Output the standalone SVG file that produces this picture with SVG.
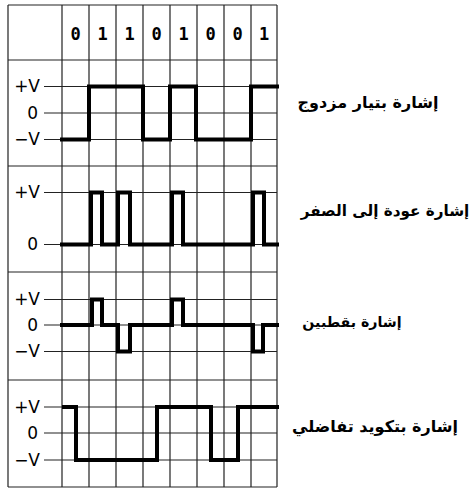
<svg xmlns="http://www.w3.org/2000/svg" width="471" height="489" viewBox="0 0 471 489">
<style>
.g{stroke:#222;stroke-width:1.2;fill:none}
.s{stroke:#000;stroke-width:4;fill:none;stroke-linejoin:miter;stroke-linecap:square}
.lv{font-family:"DejaVu Sans",sans-serif;font-size:17px;fill:#000;text-anchor:end}
.bit{font-family:"DejaVu Sans Mono",monospace;font-size:17px;font-weight:bold;fill:#000;text-anchor:middle}
.ar{font-family:"DejaVu Sans",sans-serif;font-size:16px;font-weight:bold;fill:#000;text-anchor:middle}
</style>
<rect width="471" height="489" fill="#fff"/>
<g id="grid">
<path class="g" d="M8,5 H277 M8,60 H277 M8,166 H277 M8,272 H277 M8,380 H277 M8,487 H277"/>
<path class="g" d="M44,86.5 H277 M44,113 H277 M44,139.5 H277 M44,192.5 H277 M44,244.5 H277 M44,299.5 H277 M44,325 H277 M44,351.5 H277 M44,407 H277 M44,433 H277 M44,460 H277"/>
<path class="g" d="M8,5 V487 M62,5 V487 M89,5 V487 M116,5 V487 M143,5 V487 M170,5 V487 M197,5 V487 M224,5 V487 M251,5 V487 M277,5 V487"/>
</g>
<g id="bits">
<text class="bit" x="75.5" y="39.5">0</text>
<text class="bit" x="102.5" y="39.5">1</text>
<text class="bit" x="129.5" y="39.5">1</text>
<text class="bit" x="156.5" y="39.5">0</text>
<text class="bit" x="183.5" y="39.5">1</text>
<text class="bit" x="210.5" y="39.5">0</text>
<text class="bit" x="237.5" y="39.5">0</text>
<text class="bit" x="264" y="39.5">1</text>
</g>
<g id="bipolar-nrz">
<text class="lv" x="40" y="92">+V</text>
<text class="lv" x="38" y="119">0</text>
<text class="lv" x="40" y="145">−V</text>
<path class="s" d="M62,139.5 H89 V86.5 H143 V139.5 H170 V86.5 H196 V139.5 H251 V86.5 H277"/>
<text class="ar" x="368" y="108">إشارة بتيار مزدوج</text>
</g>
<g id="return-to-zero">
<text class="lv" x="40" y="198">+V</text>
<text class="lv" x="38" y="250">0</text>
<path class="s" d="M62,244.5 H91 V192.5 H102 V244.5 H118 V192.5 H130 V244.5 H172 V192.5 H183 V244.5 H253 V192.5 H264 V244.5 H277"/>
<text class="ar" x="385" y="216" style="font-size:15.2px">إشارة عودة إلى الصفر</text>
</g>
<g id="bipolar-ami">
<text class="lv" x="40" y="305">+V</text>
<text class="lv" x="38" y="331">0</text>
<text class="lv" x="40" y="357">−V</text>
<path class="s" d="M62,325 H92 V299.5 H102 V325 H118 V351.5 H130 V325 H172 V299.5 H183 V325 H253 V351.5 H263 V325 H277"/>
<text class="ar" x="352" y="327" style="font-size:14.2px">إشارة بقطبين</text>
</g>
<g id="differential">
<text class="lv" x="40" y="413">+V</text>
<text class="lv" x="38" y="439">0</text>
<text class="lv" x="40" y="466">−V</text>
<path class="s" d="M64,407 H76 V460 H157 V407 H211 V460 H238 V407 H277"/>
<text class="ar" x="375" y="432">إشارة بتكويد تفاضلي</text>
</g>
</svg>
